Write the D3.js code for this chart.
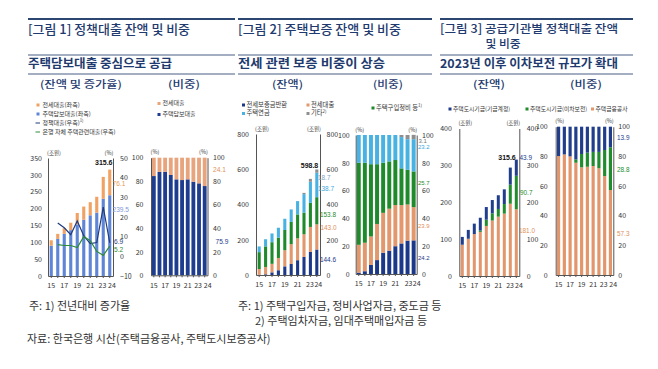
<!DOCTYPE html>
<html><head><meta charset="utf-8">
<script src="https://cdn.jsdelivr.net/npm/d3@7"></script>
<style>
html,body{margin:0;padding:0;background:#fff;}
svg{display:block;}
text{font-family:"Noto Sans CJK KR","Noto Sans",sans-serif;}
.num text, text.num{font-family:"Liberation Sans",Arial,sans-serif;}
</style></head><body>
<svg id="chart" width="658" height="369"></svg>
<script>
// ---------------- DATA ----------------
const years = ["15","16","17","18","19","20","21","22","23","24"];
const yearLabels = ["15","17","19","21","23","24"];

// Figure 1 (조원, %)
const f1Mortgage = [90,110,125,136,153,167,180,188,229,239.5];
const f1Jeonse = [16,15,17,22,34,39,39,47,65,76.1];
const f1Total = [106,125,142,158,187,206,219,235,294,315.6];
const f1PolicyGrowth = [null,17,14.5,11,18,10.5,6.5,7,25,6.9];
const f1BankGrowth = [null,6,5.5,5.5,4.5,10,8,2.5,0.5,5.2];
const f1MortgageShare = [84.4,88,88,85.3,81.6,81,81.6,79.6,78.2,75.9];
const f1JeonseShare = [15.6,12,12,14.7,18.4,19,18.4,20.4,21.8,24.1];
const f1TicksL = [0,50,100,150,200,250,300,350];
const f1TicksR = [-10,0,10,20,30,40,50];
const shareTicks = [0,20,40,60,80,100];

// Figure 2 (조원, %)
const f2Return = [1.6,4,15,27,49,62.5,84,102.5,131,144.6];
const f2Jeonse = [32.4,41.6,48.4,69.7,91.6,112.3,124,128.6,141.7,143.0];
const f2Purchase = [95.6,116.7,122.7,115.2,114.8,126.5,135.8,123,136.3,153.8];
const f2Pension = [32.4,40.6,49.6,56.3,63.8,70.7,75.4,104.9,119.9,138.7];
const f2Other = [0,0,0,0,0,0,0,7,16.4,18.7];
const f2Total = 598.8;
const f2ReturnShare = [1,2,6.5,10,15.3,16.8,20,22,24,24.2];
const f2JeonseShare = [20,20.5,20.5,26,28.7,30.2,29.6,27.6,26,23.9];
const f2PurchaseShare = [59,57.5,52,43,36,34,32.4,26.4,25,25.7];
const f2PensionShare = [20,20,21,21,20,19,18,22.5,22,23.2];
const f2OtherShare = [0,0,0,0,0,0,0,1.5,3,3.1];
const f2Ticks = [0,200,400,600,800];

// Figure 3 (조원, %)
const f3HF = [84.8,101,113.6,119.6,135.8,150.4,161,169.2,196,181.0];
const f3Subsidy = [0,0,0,3.6,16.8,19.6,20.8,25.9,51.7,90.7];
const f3Fund = [21.2,24,28.4,34.8,34.4,36,37.2,39.9,46.3,43.9];
const f3Total = 315.6;
const f3HFShare = [80.2,81.3,80,75.7,72.6,73,73.5,72,66.7,57.3];
const f3SubsidyShare = [0,0,0,2.3,9,9.5,9.5,11,17.6,28.8];
const f3FundShare = [19.8,18.7,20,22,18.4,17.5,17,17,15.7,13.9];
const f3Ticks = [0,100,200,300,400];

// ---------------- STYLE ----------------
const NAVY = "#1e3a6e";
const C = {
  p1blue:"#5f86d6", p1orange:"#f0a264", p1line:"#1f3b7d", p1green:"#2e8b3a",
  navy:"#1f3d8e", salmon:"#e8a47c",
  p2navy:"#1c3889", p2orange:"#e2976c", p2green:"#1f8a2c", p2light:"#48b2e2", p2gray:"#8f8f8f",
  p3navy:"#213e8c", p3green:"#218c2e", p3orange:"#e3956b"
};

const svg = d3.select("#chart");
svg.append("rect").attr("width",658).attr("height",369).attr("fill","#fff");

function text(x,y,s,o={}){
  const t = svg.append("text").attr("x",x).attr("y",y)
    .attr("font-size",o.size||7).attr("fill",o.fill||"#333")
    .attr("text-anchor",o.anchor||"start")
    .attr("dominant-baseline","middle")
    .attr("font-weight",o.weight||"normal");
  if(o.num) t.attr("class","num");
  if(o.len) t.attr("textLength",o.len).attr("lengthAdjust","spacingAndGlyphs");
  t.text(s);
  if(o.sup){ t.append("tspan").attr("font-size",(o.size||7)*0.7).attr("dy",-2).text(o.sup); }
  return t;
}

// ---------------- HEADERS ----------------
const headers = [
  {x0:28,x1:235, title:["[그림 1] 정책대출 잔액 및 비중"], tl:162, sub:"주택담보대출 중심으로 공급", sl:144,
   h:[["(잔액 및 증가율)",81,82],["(비중)",184,32]]},
  {x0:238,x1:432, title:["[그림 2] 주택보증 잔액 및 비중"], tl:163, sub:"전세 관련 보증 비중이 상승", sl:147,
   h:[["(잔액)",287.5,31],["(비중)",388,30]]},
  {x0:440,x1:633, title:["[그림 3] 공급기관별 정책대출 잔액","및 비중"], tl:178, sub:"2023년 이후 이차보전 규모가 확대", sl:178,
   h:[["(잔액)",489,32],["(비중)",586,32]]}
];
headers.forEach((h,i)=>{
  svg.append("line").attr("x1",h.x0).attr("x2",h.x1).attr("y1",19).attr("y2",19).attr("stroke","#2c4672").attr("stroke-width",1.8);
  svg.append("line").attr("x1",h.x0).attr("x2",h.x1).attr("y1",55).attr("y2",55).attr("stroke","#4a5f85").attr("stroke-width",1.2);
  svg.append("line").attr("x1",h.x0).attr("x2",h.x1).attr("y1",74).attr("y2",74).attr("stroke","#4a5f85").attr("stroke-width",1.2);
  const two = !!h.title[1];
  text(h.x0,two?30:31,h.title[0],{size:two?11.8:12.8,fill:NAVY,weight:"500",len:h.tl});
  if(two) text(503,45,h.title[1],{size:11.8,fill:NAVY,anchor:"middle",weight:"500"});
  text(h.x0,65,h.sub,{size:12.2,fill:NAVY,weight:"bold",len:h.sl});
  h.h.forEach(([s,x,w])=>text(x-w/2,85,s,{size:10,fill:NAVY,weight:"500",len:w}));
});

// ---------------- PANEL HELPER ----------------
function panel(cfg){
  const x = d3.scaleBand().domain(years).range([cfg.x0,cfg.x1]).paddingInner(cfg.pad).paddingOuter(cfg.pad/2);
  const yL = d3.scaleLinear().domain(cfg.domL).range([cfg.yB,cfg.yT]);
  const yR = d3.scaleLinear().domain(cfg.domR||cfg.domL).range([cfg.yB,cfg.yT]);
  const rows = years.map((yr,i)=>{ const r={year:yr}; cfg.series.forEach(s=>r[s.key]=s.values[i]); return r;});
  const stack = d3.stack().keys(cfg.series.map(s=>s.key))(rows);
  const g = svg.append("g");
  stack.forEach((layer,li)=>{
    g.selectAll(null).data(layer).join("rect")
      .attr("x",d=>x(d.data.year)).attr("width",x.bandwidth())
      .attr("y",d=>yL(d[1])).attr("height",d=>Math.max(0,yL(d[0])-yL(d[1])))
      .attr("fill",cfg.series[li].color);
  });
  const axStyle = sel=>{
    sel.select(".domain").attr("stroke","#555").attr("stroke-width",1);
    sel.selectAll(".tick line").attr("stroke","#555");
    sel.selectAll("text").attr("font-size",7).attr("fill","#333").attr("font-family","Liberation Sans, Arial, sans-serif");
  };
  svg.append("g").attr("transform",`translate(${cfg.x0},0)`)
    .call(d3.axisLeft(yL).tickValues(cfg.ticksL).tickSize(0).tickSizeOuter(0).tickPadding(cfg.padL)).call(axStyle);
  svg.append("g").attr("transform",`translate(${cfg.x1},0)`)
    .call(d3.axisRight(yR).tickValues(cfg.ticksR||cfg.ticksL).tickSize(0).tickSizeOuter(0).tickPadding(cfg.padR)).call(axStyle);
  svg.append("g").attr("transform",`translate(0,${cfg.yB})`)
    .call(d3.axisBottom(x).tickFormat(d=>yearLabels.includes(d)?d:"").tickSize(2).tickSizeOuter(0).tickPadding(5.5)).call(axStyle)
    .selectAll(".tick text").attr("dx",d=>d==="24"?(cfg.dx24||2.2):d==="23"?(cfg.dx23||-0.8):0);
  text(cfg.x0+ (cfg.unitL.length>3?6:4), cfg.yT-5, cfg.unitL, {size:5.5,anchor:"middle"});
  text(cfg.x1- (cfg.unitR.length>3?6:4), cfg.yT-5, cfg.unitR, {size:5.5,anchor:"middle"});
  return {x,yL,yR,cx:d=>x(d)+x.bandwidth()/2};
}

// ---------------- FIGURE 1 ----------------
const p1 = panel({x0:48,x1:113,yB:276,yT:158,domL:[0,350],domR:[-10,50],ticksL:f1TicksL,ticksR:f1TicksR,
  pad:0.52,padL:6,padR:7,unitL:"(조원)",unitR:"(%)",
  series:[{key:"m",values:f1Mortgage,color:C.p1blue},{key:"j",values:f1Jeonse,color:C.p1orange}]});
const lineGen = (vals)=>d3.line().defined(d=>d[1]!=null).x(d=>p1.cx(d[0])).y(d=>p1.yR(d[1]))(years.map((y,i)=>[y,vals[i]]));
svg.append("path").attr("d",lineGen(f1PolicyGrowth)).attr("fill","none").attr("stroke",C.p1line).attr("stroke-width",1.2);
svg.append("path").attr("d",lineGen(f1BankGrowth)).attr("fill","none").attr("stroke",C.p1green).attr("stroke-width",1.2);
text(p1.cx("24")-6, p1.yL(f1Total[9])-6, f1Total[9].toFixed(1), {size:7,weight:"bold",fill:"#111",anchor:"middle",num:1});
text(112.5, p1.yL(f1Mortgage[9]+f1Jeonse[9]/2)+1.5, f1Jeonse[9].toFixed(1), {size:6.6,fill:"#e89a55",num:1});
text(112.5, p1.yL(196), f1Mortgage[9].toFixed(1), {size:6.6,fill:"#7f9ad8",num:1});
text(114, p1.yR(7.2), f1PolicyGrowth[9].toFixed(1), {size:6.6,fill:C.p1line,num:1});
text(114, p1.yR(3.2), f1BankGrowth[9].toFixed(1), {size:6.6,fill:C.p1green,num:1});
[["전세대출(좌축)",C.p1orange,"sq",105],["주택담보대출(좌축)",C.p1blue,"sq",114],
 ["정책대출(우축)",C.p1line,"ln",123,"1)"],["은행 자체 주택관련대출(우축)",C.p1green,"ln",132]].forEach(([s,c,t,y,sup])=>{
  if(t==="sq") svg.append("rect").attr("x",36.5).attr("y",y-1.5).attr("width",3).attr("height",3).attr("fill",c);
  else svg.append("line").attr("x1",35.5).attr("x2",40).attr("y1",y).attr("y2",y).attr("stroke",c).attr("stroke-width",1);
  text(42.5,y,s,{size:6,sup:sup});
});

const p1s = panel({x0:151,x1:207.5,yB:275.3,yT:157.7,domL:[0,100],ticksL:shareTicks,
  pad:0.32,padL:7.5,padR:5.5,unitL:"(%)",unitR:"(%)",dx24:3,dx23:-1,
  series:[{key:"m",values:f1MortgageShare,color:C.navy},{key:"j",values:f1JeonseShare,color:C.salmon}]});
text(213, p1s.yL(89.5), f1JeonseShare[9].toFixed(1), {size:6.6,fill:"#e0905a",num:1});
text(215.5, p1s.yL(28.5), f1MortgageShare[9].toFixed(1), {size:6.6,fill:C.navy,num:1});
[["전세대출",C.salmon,103.5],["주택담보대출",C.navy,114.5]].forEach(([s,c,y])=>{
  svg.append("rect").attr("x",157.5).attr("y",y-1.5).attr("width",3).attr("height",3).attr("fill",c);
  text(162.5,y,s,{size:6});
});

// ---------------- FIGURE 2 ----------------
const p2 = panel({x0:256,x1:320,yB:275,yT:134,domL:[0,800],ticksL:f2Ticks,
  pad:0.52,padL:7,padR:6.5,unitL:"(조원)",unitR:"(조원)",dx24:1.5,dx23:-0.5,
  series:[{key:"r",values:f2Return,color:C.p2navy},{key:"j",values:f2Jeonse,color:C.p2orange},
          {key:"p",values:f2Purchase,color:C.p2green},{key:"n",values:f2Pension,color:C.p2light},
          {key:"o",values:f2Other,color:C.p2gray}]});
text(309.5, p2.yL(f2Total)-3, f2Total.toFixed(1), {size:7,weight:"bold",fill:"#111",anchor:"middle",num:1});
text(318, p2.yL(550), f2Other[9].toFixed(1), {size:6.4,fill:"#7fa2c0",num:1});
text(318, p2.yL(489), f2Pension[9].toFixed(1), {size:6.4,fill:"#3aa8dc",num:1});
text(320, p2.yL(340), f2Purchase[9].toFixed(1), {size:6.4,fill:C.p2green,num:1});
text(320.5, p2.yL(266), f2Jeonse[9].toFixed(1), {size:6.4,fill:"#e0905a",num:1});
text(320, p2.yL(85), f2Return[9].toFixed(1), {size:6.4,fill:C.p2navy,num:1});
[["전세보증금반환",C.p2navy,242,105],["전세대출",C.p2orange,306.5,105],["주택구입정비 등",C.p2green,371.5,108,"1)"],
 ["주택연금",C.p2light,242,113.5],["기타",C.p2gray,306.5,113.5,"2)"]].forEach(([s,c,x,y,sup])=>{
  svg.append("rect").attr("x",x).attr("y",y-1.5).attr("width",3).attr("height",3).attr("fill",c);
  text(x+4.5,y,s,{size:6.3,sup:sup});
});

const p2s = panel({x0:355.7,x1:416.7,yB:274,yT:135,domL:[0,100],ticksL:shareTicks,
  pad:0.35,padL:6,padR:5.3,unitL:"(%)",unitR:"(%)",dx24:3,dx23:1,
  series:[{key:"r",values:f2ReturnShare,color:C.p2navy},{key:"j",values:f2JeonseShare,color:C.p2orange},
          {key:"p",values:f2PurchaseShare,color:C.p2green},{key:"n",values:f2PensionShare,color:C.p2light},
          {key:"o",values:f2OtherShare,color:C.p2gray}]});
text(418.5, p2s.yL(95.6), f2OtherShare[9].toFixed(1), {size:6,fill:"#777",num:1});
text(418, p2s.yL(91.4), f2PensionShare[9].toFixed(1), {size:6,fill:"#3aa8dc",num:1});
text(418, p2s.yL(65.4), f2PurchaseShare[9].toFixed(1), {size:6,fill:C.p2green,num:1});
text(418, p2s.yL(34.4), f2JeonseShare[9].toFixed(1), {size:6,fill:"#e0905a",num:1});
text(418, p2s.yL(11.5), f2ReturnShare[9].toFixed(1), {size:6,fill:C.p2navy,num:1});

// ---------------- FIGURE 3 ----------------
const p3 = panel({x0:459.3,x1:519.3,yB:276,yT:128.5,domL:[0,400],ticksL:f3Ticks,
  pad:0.5,padL:7.5,padR:7.4,unitL:"(조원)",unitR:"(조원)",dx24:2.6,dx23:-0.2,
  series:[{key:"h",values:f3HF,color:C.p3orange},{key:"s",values:f3Subsidy,color:C.p3green},{key:"f",values:f3Fund,color:C.p3navy}]});
text(507, p3.yL(f3Total)-1, f3Total.toFixed(1), {size:7,weight:"bold",fill:"#111",anchor:"middle",num:1});
text(519.5, p3.yL(318), f3Fund[9].toFixed(1), {size:6.4,fill:C.p3navy,num:1});
text(520, p3.yL(224), f3Subsidy[9].toFixed(1), {size:6.4,fill:C.p3green,num:1});
text(519, p3.yL(120), f3HF[9].toFixed(1), {size:6.4,fill:"#e0905a",num:1});
[["주택도시기금(기금계정)",C.p3navy,448.5],["주택도시기금(이차보전)",C.p3green,525.5],["주택금융공사",C.p3orange,591]].forEach(([s,c,x])=>{
  svg.append("rect").attr("x",x).attr("y",107.5).attr("width",3).attr("height",3).attr("fill",c);
  text(x+4.5,109,s,{size:5.8});
});

const p3s = panel({x0:555.7,x1:613.3,yB:275,yT:126.7,domL:[0,100],ticksL:shareTicks,
  pad:0.45,padL:8,padR:5,unitL:"(%)",unitR:"(%)",dx24:2.8,dx23:-1,
  series:[{key:"h",values:f3HFShare,color:C.p3orange},{key:"s",values:f3SubsidyShare,color:C.p3green},{key:"f",values:f3FundShare,color:C.p3navy}]});
text(617, p3s.yL(92.3), f3FundShare[9].toFixed(1), {size:6.4,fill:C.p3navy,num:1});
text(617, p3s.yL(70.8), f3SubsidyShare[9].toFixed(1), {size:6.4,fill:C.p3green,num:1});
text(617, p3s.yL(27.6), f3HFShare[9].toFixed(1), {size:6.4,fill:"#e0905a",num:1});

// ---------------- FOOTNOTES ----------------
text(29,307,"주: 1) 전년대비 증가율",{size:11,fill:"#333"});
text(238,307,"주: 1) 주택구입자금, 정비사업자금, 중도금 등",{size:11,fill:"#333"});
text(255,322,"2) 주택임차자금, 임대주택매입자금 등",{size:11,fill:"#333"});
text(27,340,"자료: 한국은행 시산(주택금융공사, 주택도시보증공사)",{size:11,fill:"#333"});
</script></body></html>
